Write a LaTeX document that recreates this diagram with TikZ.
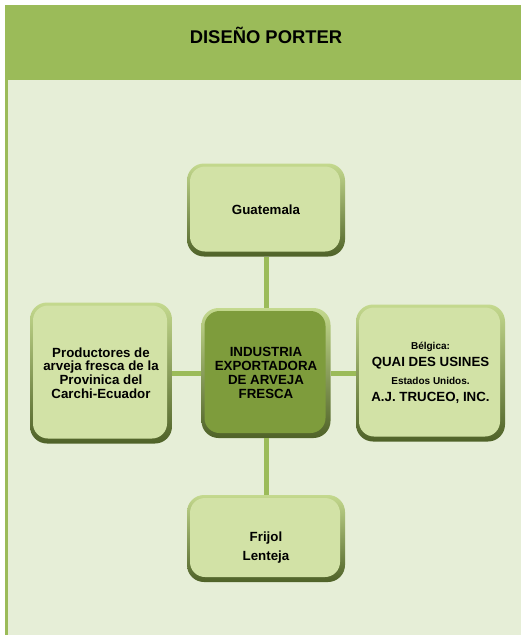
\documentclass[tikz,border=0pt]{standalone}
\usepackage{fontspec}
\setmainfont{Liberation Sans}
\definecolor{headgreen}{HTML}{9BBB59}
\definecolor{paneback}{HTML}{E6EED7}
\definecolor{boxlight}{HTML}{D2E2A6}
\definecolor{boxdark}{HTML}{7E9C3C}
\definecolor{edgetop}{HTML}{C4D98E}
\definecolor{edgebot}{HTML}{4F6228}
\definecolor{linkgreen}{HTML}{9BBB59}

\begin{document}
\begin{tikzpicture}[x=1pt,y=-1pt,
    box/.style={rounded corners=17pt, top color=edgetop, bottom color=edgebot,
        inner sep=0pt, align=center,
        font=\bfseries\fontsize{13.3}{13.8}\selectfont,
        path picture={\fill[#1, rounded corners=15pt]
            ([shift={(3pt,5pt)}]path picture bounding box.south west) rectangle
            ([shift={(-5pt,-3pt)}]path picture bounding box.north east);}},
    link/.style={linkgreen, line width=5pt}]
    \useasboundingbox (0,0) rectangle (521,635);
    % background
    \fill[headgreen] (5,5) rectangle (521,80);
    \fill[paneback] (8,80) rectangle (521,635);
    \fill[headgreen] (5,80) rectangle (8,635);
    \node[font=\bfseries\fontsize{18.4}{22}\selectfont] (title) at (266,35) {DISEÑO PORTER};
    % boxes
    \node[box=boxlight, minimum width=158pt, minimum height=93pt] (guate) at (266,210) {Guatemala};
    \node[box=boxdark, minimum width=129pt, minimum height=130pt] (industria) at (266,373) {INDUSTRIA\\EXPORTADORA\\DE ARVEJA\\FRESCA};
    \node[box=boxlight, minimum width=142pt, minimum height=141pt] (productores) at (101,373) {Productores de\\arveja fresca de la\\Provinica del\\Carchi-Ecuador};
    \node[box=boxlight, minimum width=149pt, minimum height=137pt,
        font=\bfseries\fontsize{13.3}{17.5}\selectfont] (belgica) at (430.5,373)
        {{\fontsize{10}{17.5}\selectfont Bélgica:}\\QUAI DES USINES\\{\fontsize{10}{17.5}\selectfont Estados Unidos.}\\A.J. TRUCEO, INC.};
    \node[box=boxlight, minimum width=158pt, minimum height=87pt,
        font=\bfseries\fontsize{13.3}{19}\selectfont] (frijol) at (266,538.5) {\rule{0pt}{28pt}Frijol\\Lenteja};
    % connectors
    \draw[link] (guate) -- (industria);
    \draw[link] (industria) -- (frijol);
    \draw[link] (productores) -- (industria);
    \draw[link] (industria) -- (belgica);
\end{tikzpicture}
\end{document}
